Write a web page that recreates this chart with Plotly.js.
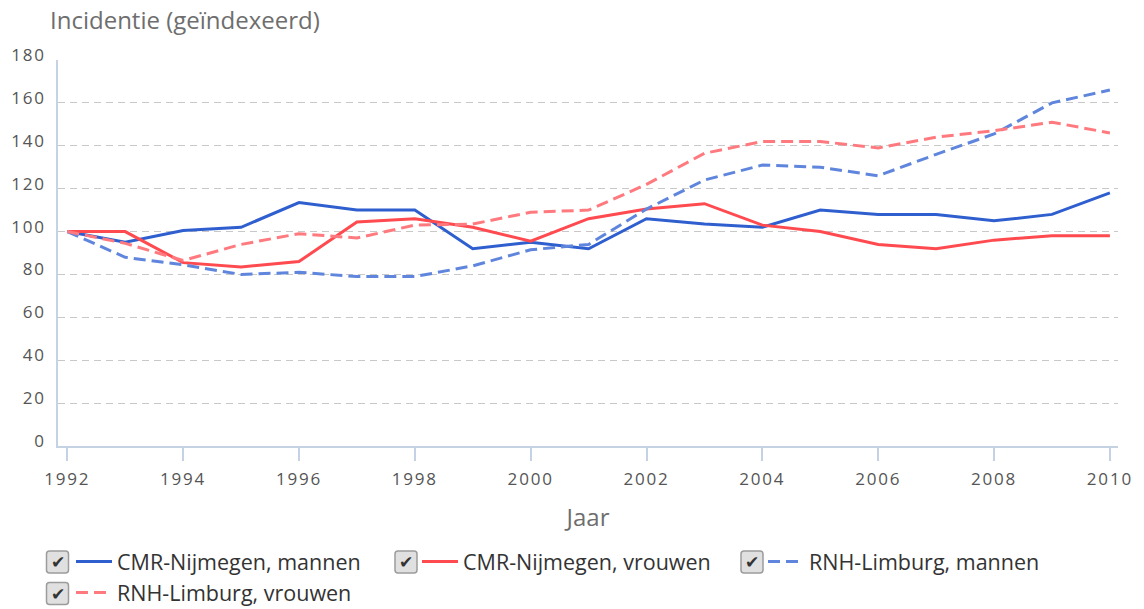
<!DOCTYPE html>
<html>
<head>
<meta charset="utf-8">
<script src="https://cdn.plot.ly/plotly-3.0.1.min.js"></script>
<style>
html,body{margin:0;padding:0;background:#fff;}
#chart{width:1144px;height:609px;}
#chart .xtick text, #chart .ytick text{letter-spacing:1.8px;}
</style>
</head>
<body>
<div id="chart"></div>
<script>
// ---- data ----
const years = [1992,1993,1994,1995,1996,1997,1998,1999,2000,2001,2002,2003,2004,2005,2006,2007,2008,2009,2010];
const cmrMannen  = [100, 95, 100.5, 102, 113.5, 110, 110, 92, 95, 92, 106, 103.5, 102, 110, 108, 108, 105, 108, 118];
const cmrVrouwen = [100, 100, 85.5, 83.5, 86, 104.5, 106, 102, 95.5, 106, 110.5, 113, 103, 100, 94, 92, 96, 98, 98];
const rnhMannen  = [100, 88, 84.5, 80, 81, 79, 79, 84, 91.5, 94, 110.5, 124, 131, 130, 126, 136, 145.5, 160, 166];
const rnhVrouwen = [100, 94.5, 86.5, 94, 99, 97, 103, 103.5, 109, 110, 122, 136.5, 142, 142, 139, 144, 147, 151, 146];
const seriesNames = ["CMR-Nijmegen, mannen", "CMR-Nijmegen, vrouwen", "RNH-Limburg, mannen", "RNH-Limburg, vrouwen"];
const yTicks = [0,20,40,60,80,100,120,140,160,180];
const xTicks = [1992,1994,1996,1998,2000,2002,2004,2006,2008,2010];

const FONT = "Open Sans, sans-serif";
const W = 1144, H = 609;
const M = {l:58, r:26, t:60, b:163, autoexpand:false};
const pw = W - M.l - M.r, ph = H - M.t - M.b;
const px2x = p => (p - M.l) / pw;
const py2y = p => (H - M.b - p) / ph;

const dash = "12px,6px";
const traces = [
  {x: years, y: cmrMannen,  name: seriesNames[0], line:{color:"#2f5fcf", width:3}},
  {x: years, y: cmrVrouwen, name: seriesNames[1], line:{color:"#ff4a4f", width:3}},
  {x: years, y: rnhMannen,  name: seriesNames[2], line:{color:"#5f86dc", width:3, dash: dash}},
  {x: years, y: rnhVrouwen, name: seriesNames[3], line:{color:"#ff7a7f", width:3, dash: dash}}
].map(t => Object.assign({type:"scatter", mode:"lines", hoverinfo:"x+y+name"}, t));

// checkbox decorations next to the legend entries
const boxes = [[57.5,562],[406,562],[752,562],[57.5,593.5]];
const shapes = [], annotations = [];
boxes.forEach(([cx,cy]) => {
  const s = 11, r = 3;
  const x0 = cx - s, x1 = cx + s, y0 = cy - s, y1 = cy + s;
  const X = px2x, Y = py2y;
  const path = `M ${X(x0+r)},${Y(y0)} L ${X(x1-r)},${Y(y0)} Q ${X(x1)},${Y(y0)} ${X(x1)},${Y(y0+r)} L ${X(x1)},${Y(y1-r)} Q ${X(x1)},${Y(y1)} ${X(x1-r)},${Y(y1)} L ${X(x0+r)},${Y(y1)} Q ${X(x0)},${Y(y1)} ${X(x0)},${Y(y1-r)} L ${X(x0)},${Y(y0+r)} Q ${X(x0)},${Y(y0)} ${X(x0+r)},${Y(y0)} Z`;
  shapes.push({type:"path", xref:"paper", yref:"paper", path: path, fillcolor:"#e0e0e0", line:{color:"#9c9c9c", width:1.5}});
  annotations.push({xref:"paper", yref:"paper", x: px2x(cx), y: py2y(cy), xanchor:"center", yanchor:"middle",
    text:"✔", showarrow:false, font:{family:"DejaVu Sans", size:17, color:"#333"}});
});

const layout = {
  width: W, height: H,
  margin: M,
  paper_bgcolor:"#fff", plot_bgcolor:"#fff",
  font:{family: FONT, color:"#555"},
  title:{text:"Incidentie (geïndexeerd)", xref:"container", yref:"container", x: 50/W, xanchor:"left", y: 1 - 21/H, yanchor:"middle",
         font:{family: FONT, size:24, color:"#6e6e6e"}},
  xaxis:{
    range:[1991.84, 2010.14], tickmode:"array", tickvals: xTicks, ticktext: xTicks.map(String),
    showgrid:false, zeroline:false, showline:true, linecolor:"#c4d2e3", linewidth:1.5,
    ticks:"outside", ticklen:13, tickwidth:1.5, tickcolor:"#c4d2e3", ticklabelstandoff:4,
    tickfont:{family: FONT, size:17, color:"#555"},
    title:{text:"Jaar", font:{family: FONT, size:24, color:"#6e6e6e"}, standoff:20}
  },
  yaxis:{
    range:[0,180], tickmode:"array", tickvals: yTicks,
    showgrid:true, gridcolor:"#c8c8c8", griddash:"7px,5px", gridwidth:1,
    zeroline:false, showline:true, linecolor:"#c4d2e3", linewidth:1.5,
    ticks:"", ticklabelstandoff:7, ticklabelshift:-5,
    tickfont:{family: FONT, size:17, color:"#555"}
  },
  showlegend:true,
  legend:{orientation:"h", xref:"container", yref:"container", x: 71/W, xanchor:"left", y: 1 - 541/H, yanchor:"top",
    itemwidth:36, entrywidth:295, entrywidthmode:"pixels", traceorder:"normal", bgcolor:"rgba(0,0,0,0)",
    font:{family: FONT, size:21.5, color:"#333"}, itemclick:false, itemdoubleclick:false},
  shapes: shapes,
  annotations: annotations
};

Plotly.newPlot("chart", traces, layout, {displayModeBar:false});
</script>
</body>
</html>
